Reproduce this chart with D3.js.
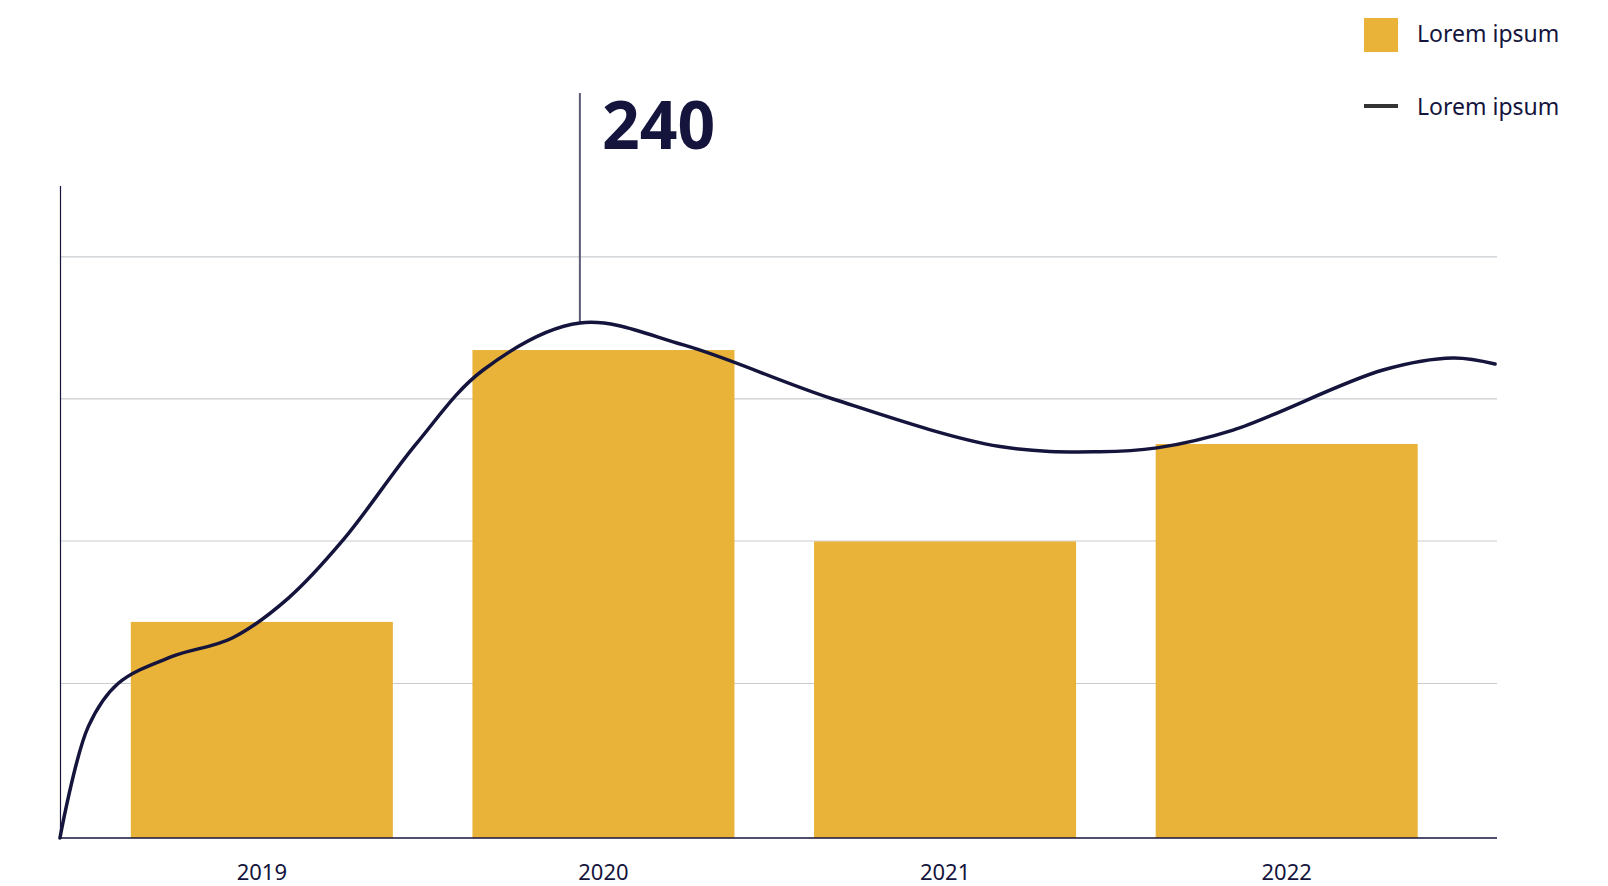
<!DOCTYPE html>
<html>
<head>
<meta charset="utf-8">
<script src="https://cdn.jsdelivr.net/npm/d3@7"></script>
<style>
  html, body { margin: 0; padding: 0; background: #fff; }
  svg { display: block; font-family: "Noto Sans", "Source Sans Pro", sans-serif; }
</style>
</head>
<body>
<div id="chart"></div>
<script>
// chart values
const years = ["2019", "2020", "2021", "2022"];
const barValues = [100.7, 227.4, 138.2, 183.6];
const gridValues = [72, 138.4, 204.6, 270.8];
// line: position along the year axis + value
const lineYears = [2018.409, 2018.492, 2018.580, 2018.736, 2018.912, 2019.077, 2019.238,
                   2019.453, 2019.648, 2019.931, 2020.234, 2020.672,
                   2021.161, 2021.453, 2021.620, 2021.843, 2022.282, 2022.487, 2022.610];
const lineValues = [0, 51.9, 72.1, 84.5, 93.1, 111.7, 138.9,
                    183.9, 218.1, 240, 229.8, 204.6,
                    182.4, 180.0, 181.8, 190.1, 218.1, 223.7, 220.9];
const peakLabel = "240";
const legendItems = ["Lorem ipsum", "Lorem ipsum"];

const width = 1608, height = 886;
const navy = "#14143c";
const gold = "#e8b338";

const svg = d3.select("#chart").append("svg")
  .attr("width", width)
  .attr("height", height);

const left = 60.5, right = 1497, bottom = 838, axisTop = 186;

const x = d3.scaleBand()
  .domain(years)
  .range([left, right])
  .paddingInner(0.233)
  .paddingOuter(0.219)
  .align(0.47);

const y = d3.scaleLinear()
  .domain([0, 240])
  .range([bottom, 323]);

// year -> pixel for the line, anchored on the band centres
const xLine = d3.scaleLinear()
  .domain([2019, 2022])
  .range([x("2019") + x.bandwidth() / 2, x("2022") + x.bandwidth() / 2]);

// gridlines
svg.append("g")
  .selectAll("line")
  .data(gridValues)
  .join("line")
  .attr("x1", left)
  .attr("x2", right)
  .attr("y1", d => y(d))
  .attr("y2", d => y(d))
  .attr("stroke", "#c9cccf")
  .attr("stroke-width", 1.2);

// bars
svg.append("g")
  .selectAll("rect")
  .data(barValues)
  .join("rect")
  .attr("x", (d, i) => x(years[i]))
  .attr("y", d => y(d))
  .attr("width", x.bandwidth())
  .attr("height", d => y(0) - y(d))
  .attr("fill", gold);

// axes
svg.append("line")
  .attr("x1", left).attr("x2", left)
  .attr("y1", axisTop).attr("y2", bottom)
  .attr("stroke", navy)
  .attr("stroke-width", 1.2);

const xAxis = svg.append("g")
  .attr("transform", `translate(0,${bottom})`)
  .call(d3.axisBottom(x).tickSize(0).tickPadding(26).tickSizeOuter(0));
xAxis.select(".domain")
  .attr("d", `M${left},0H${right}`)
  .attr("stroke", navy)
  .attr("stroke-width", 1.5);
xAxis.selectAll("text")
  .attr("font-size", 22)
  .attr("font-family", "Noto Sans")
  .attr("fill", navy);

// peak marker
const peakIdx = lineValues.indexOf(d3.max(lineValues));
const peakX = xLine(lineYears[peakIdx]);
svg.append("line")
  .attr("x1", peakX).attr("x2", peakX)
  .attr("y1", 93).attr("y2", y(lineValues[peakIdx]))
  .attr("stroke", "#5b5b78")
  .attr("stroke-width", 2);

svg.append("text")
  .attr("x", peakX + 22)
  .attr("y", 149)
  .attr("font-size", 66)
  .attr("font-weight", "bold")
  .attr("fill", navy)
  .text(peakLabel);

// line
const line = d3.line()
  .x((d, i) => xLine(lineYears[i]))
  .y(d => y(d))
  .curve(d3.curveCatmullRom.alpha(0.5));

svg.append("path")
  .datum(lineValues)
  .attr("d", line)
  .attr("fill", "none")
  .attr("stroke", navy)
  .attr("stroke-width", 3.5)
  .attr("stroke-linecap", "round");

// legend
const legend = svg.append("g").attr("transform", "translate(1364,0)");
legend.append("rect")
  .attr("x", 0).attr("y", 18)
  .attr("width", 34).attr("height", 34)
  .attr("fill", gold);
legend.append("line")
  .attr("x1", 0).attr("x2", 34)
  .attr("y1", 106).attr("y2", 106)
  .attr("stroke", "#333")
  .attr("stroke-width", 4);
legend.selectAll("text")
  .data(legendItems)
  .join("text")
  .attr("x", 53)
  .attr("y", (d, i) => 42 + i * 73)
  .attr("font-size", 23)
  .attr("fill", navy)
  .text(d => d);
</script>
</body>
</html>
